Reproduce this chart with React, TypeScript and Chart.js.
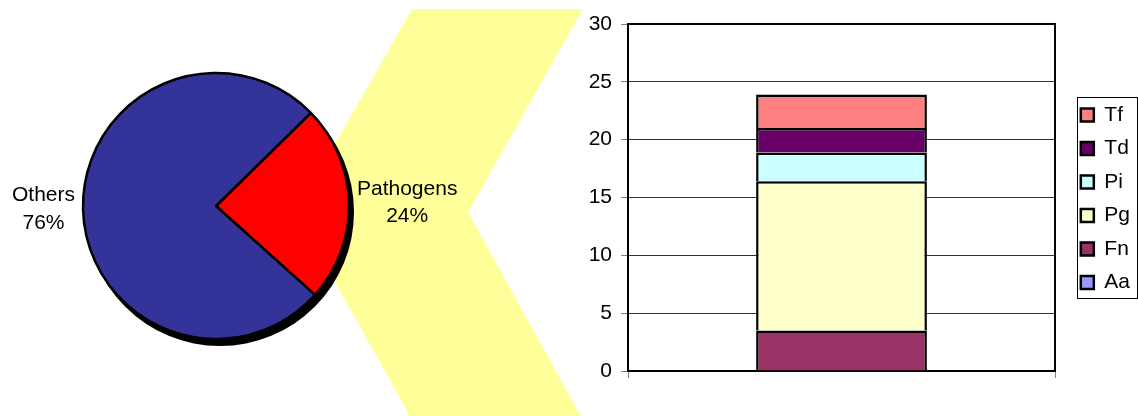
import React, { useEffect, useRef } from 'react';
import { Chart, registerables } from 'chart.js';

Chart.register(...registerables);

const FONT = "'Liberation Sans', Arial, Helvetica, sans-serif";

// Pie data
const pieLabels = ['Pathogens', 'Others'];
const pieValues = [24, 76];
const pieColors = ['#FF0000', '#333399'];

// Stacked bar data
const barCategories = [''];
const seriesNames = ['Aa', 'Fn', 'Pg', 'Pi', 'Td', 'Tf'];
const aaValues = [0];
const fnValues = [3.5];
const pgValues = [12.9];
const piValues = [2.5];
const tdValues = [2.1];
const tfValues = [2.9];
const seriesColors = ['#9999FF', '#993366', '#FFFFCC', '#CCFFFF', '#660066', '#FF8080'];
const yMin = 0;
const yMax = 30;
const yStep = 5;

// Decorative chevron behind the pie (canvas coordinates)
const chevronPoints: [number, number][] = [
  [412, 9], [583, 9], [468, 212], [583, 420], [412, 420], [296, 212],
];

const TEXT_SIZE = 21;
const LEGEND_PAD = 12.5;

export default function App() {
  const pieRef = useRef<HTMLCanvasElement | null>(null);
  const barRef = useRef<HTMLCanvasElement | null>(null);

  useEffect(() => {
    if (!pieRef.current || !barRef.current) return;

    const piePlugin = {
      id: 'pieDecor',
      beforeDatasetsDraw(chart: any) {
        const ctx = chart.ctx as CanvasRenderingContext2D;
        ctx.save();
        ctx.fillStyle = '#FFFF99';
        ctx.beginPath();
        chevronPoints.forEach(([x, y], i) => (i === 0 ? ctx.moveTo(x, y) : ctx.lineTo(x, y)));
        ctx.closePath();
        ctx.fill();
        const arc = chart.getDatasetMeta(0).data[0];
        if (arc) {
          ctx.fillStyle = '#000';
          ctx.beginPath();
          ctx.arc(arc.x + 4, arc.y + 6, arc.outerRadius + 1, 0, Math.PI * 2);
          ctx.fill();
        }
        ctx.restore();
      },
      afterDatasetsDraw(chart: any) {
        const meta = chart.getDatasetMeta(0);
        const ds = chart.data.datasets[0].data as number[];
        const total = ds.reduce((a, b) => a + b, 0);
        const ctx = chart.ctx as CanvasRenderingContext2D;
        ctx.save();
        ctx.font = `${TEXT_SIZE}px ${FONT}`;
        ctx.fillStyle = '#000';
        ctx.textBaseline = 'middle';
        ctx.textAlign = 'center';
        meta.data.forEach((el: any, i: number) => {
          const mid = (el.startAngle + el.endAngle) / 2;
          const rr = el.outerRadius + 8;
          const px = el.x + Math.cos(mid) * rr;
          const py = el.y + Math.sin(mid) * rr;
          const lines = [String(chart.data.labels[i]), Math.round((ds[i] / total) * 100) + '%'];
          const w = Math.max(...lines.map((l) => ctx.measureText(l).width));
          const cx = Math.cos(mid) >= 0 ? px + w / 2 : px - w / 2;
          const lh = 27.5;
          lines.forEach((l, k) => ctx.fillText(l, cx, py + (k - (lines.length - 1) / 2) * lh));
        });
        ctx.restore();
      },
    };

    const pie = new Chart(pieRef.current, {
      type: 'pie',
      data: {
        labels: pieLabels,
        datasets: [
          {
            data: pieValues,
            backgroundColor: pieColors,
            borderColor: '#000',
            borderWidth: 2.5,
          },
        ],
      },
      options: {
        responsive: false,
        animation: false,
        rotation: 45.5,
        radius: 133,
        layout: { padding: { left: 0, right: 168, top: 0, bottom: 4 } },
        plugins: { legend: { display: false }, tooltip: { enabled: false } },
        events: [],
      },
      plugins: [piePlugin],
    } as any);

    const barPlugin = {
      id: 'barDecor',
      beforeDatasetsDraw(chart: any) {
        const { ctx, chartArea } = chart;
        ctx.save();
        ctx.strokeStyle = '#000';
        ctx.lineWidth = 2;
        ctx.strokeRect(chartArea.left, chartArea.top, chartArea.right - chartArea.left, chartArea.bottom - chartArea.top);
        ctx.restore();
      },
      afterDraw(chart: any) {
        const lg = chart.legend;
        if (!lg) return;
        const n = chart.data.datasets.length;
        const colH = n * (TEXT_SIZE + LEGEND_PAD);
        const yStart = (lg.top + LEGEND_PAD + lg.bottom - colH) / 2;
        const itemsX = lg.left + LEGEND_PAD;
        const ctx = chart.ctx as CanvasRenderingContext2D;
        const x0 = Math.round(itemsX - 4) + 0.5;
        const y0 = Math.round(yStart - 7.5) + 0.5;
        const x1 = chart.width - 0.5;
        const y1 = Math.round(yStart + colH - LEGEND_PAD + 5) + 0.5;
        ctx.save();
        ctx.strokeStyle = '#000';
        ctx.lineWidth = 1;
        ctx.strokeRect(x0, y0, x1 - x0, y1 - y0);
        ctx.restore();
      },
    };

    const seriesData = [aaValues, fnValues, pgValues, piValues, tdValues, tfValues];

    const bar = new Chart(barRef.current, {
      type: 'bar',
      data: {
        labels: barCategories,
        datasets: seriesNames.map((name, i) => ({
          label: name,
          data: seriesData[i],
          backgroundColor: seriesColors[i],
          borderColor: '#000',
          borderWidth: 2.5,
          barPercentage: 0.4,
          categoryPercentage: 1,
        })),
      },
      options: {
        responsive: false,
        animation: false,
        events: [],
        layout: { padding: { left: 0, right: -2, top: 24, bottom: 42.5 } },
        scales: {
          x: {
            stacked: true,
            grid: {
              offset: true,
              drawOnChartArea: false,
              drawTicks: true,
              tickLength: 7,
              tickColor: '#808080',
            },
            border: { display: false },
            ticks: { display: false },
            afterFit: (s: any) => {
              s.height = 2.5;
            },
          },
          y: {
            stacked: true,
            min: yMin,
            max: yMax,
            ticks: {
              stepSize: yStep,
              color: '#000',
              padding: 9,
              font: { family: FONT, size: TEXT_SIZE },
            },
            grid: {
              color: '#333',
              lineWidth: 1,
              tickLength: 7,
              tickColor: '#808080',
            },
            border: { display: false },
            afterFit: (s: any) => {
              s.width = 48;
            },
          },
          spacer: {
            type: 'linear',
            position: 'right',
            display: true,
            grid: { display: false },
            ticks: { display: false },
            border: { display: false },
            afterFit: (s: any) => {
              s.width = 13.3;
            },
          },
        },
        plugins: {
          tooltip: { enabled: false },
          legend: {
            position: 'right',
            reverse: true,
            labels: {
              boxWidth: 13,
              boxHeight: 13,
              padding: LEGEND_PAD,
              color: '#000',
              font: { family: FONT, size: TEXT_SIZE },
            },
          },
        },
      },
      plugins: [barPlugin],
    } as any);

    return () => {
      pie.destroy();
      bar.destroy();
    };
  }, []);

  return (
    <div style={{ position: 'absolute', left: 0, top: 0, width: 1138, height: 416, overflow: 'hidden', background: '#fff' }}>
      <canvas ref={pieRef} width={600} height={416} style={{ position: 'absolute', left: 0, top: 0, display: 'block' }} />
      <canvas ref={barRef} width={558} height={416} style={{ position: 'absolute', left: 580, top: 0, display: 'block' }} />
    </div>
  );
}
